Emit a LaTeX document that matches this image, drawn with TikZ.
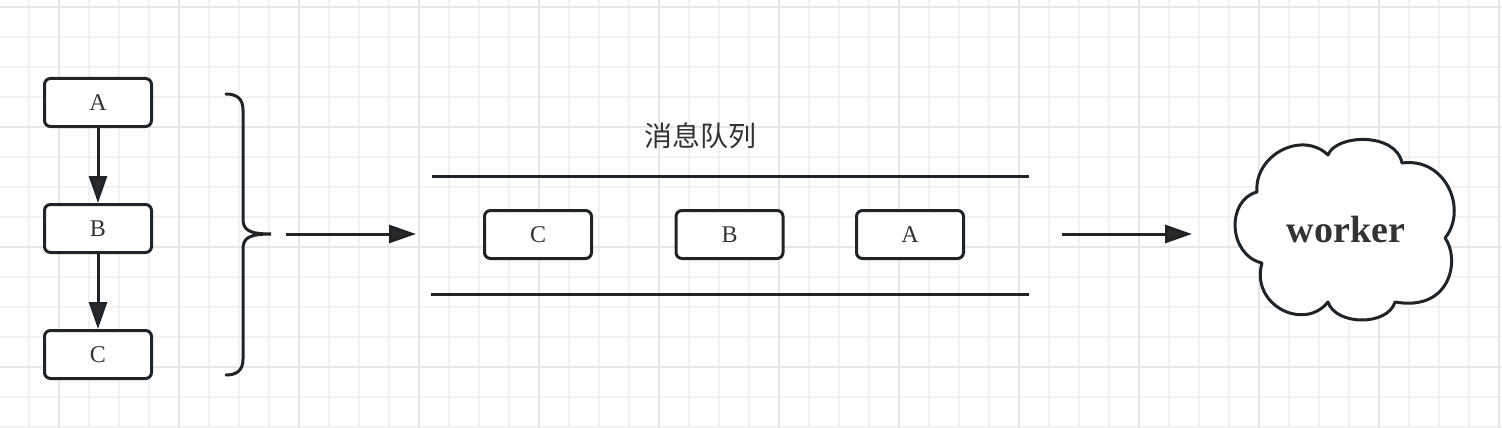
\documentclass[tikz,border=0pt]{standalone}
\usepackage{fontspec}
\setmainfont{Liberation Serif}
\newfontfamily\cjk{Noto Sans CJK SC}
\usetikzlibrary{arrows.meta}
\definecolor{gridminor}{HTML}{F1F1F1}
\definecolor{gridmajor}{HTML}{E6E6E6}
\definecolor{ink}{HTML}{1E2428}
\definecolor{tipfill}{HTML}{2A2A2A}
\definecolor{txt}{HTML}{333333}
\tikzset{
  msgbox/.style={draw=ink, line width=3pt, rounded corners=6pt, fill=white,
    minimum width=107pt, minimum height=48pt, inner sep=0pt,
    font=\fontsize{24}{28}\selectfont, text=txt},
  flow/.style={draw=ink, line width=3pt,
    -{Triangle[length=27pt,width=18pt,fill=tipfill]}},
  bar/.style={draw=ink, line width=3pt},
}
\begin{document}
\begin{tikzpicture}[x=1pt, y=-1pt]
\useasboundingbox (0,0) rectangle (1502,428);
\fill[white] (0,0) rectangle (1502,428);
% grid
\foreach \gx in {29,59,...,1499} {\draw[gridminor, line width=1.6pt] (\gx,0) -- (\gx,428);}
\foreach \gy in {7,37,...,427} {\draw[gridminor, line width=1.6pt] (0,\gy) -- (1502,\gy);}
\foreach \gx in {59,179,...,1499} {\draw[gridmajor, line width=1.8pt] (\gx,0) -- (\gx,428);}
\foreach \gy in {7,127,...,427} {\draw[gridmajor, line width=1.8pt] (0,\gy) -- (1502,\gy);}

% left chain
\node[msgbox] (a1) at (98,102.5) {A};
\node[msgbox] (b1) at (98,228.5) {B};
\node[msgbox] (c1) at (98,354.5) {C};
\draw[flow] (a1.south) -- (b1.north);
\draw[flow] (b1.south) -- (c1.north);

% brace
\draw[bar, line cap=round] (226,94) .. controls (237,94) and (243,99) .. (243,110)
  -- (243,219) .. controls (243,230) and (249,234) .. (271,234)
  .. controls (249,234) and (243,238) .. (243,249)
  -- (243,359) .. controls (243,370) and (237,375) .. (226,375);

% arrow into queue
\coordinate (in1) at (286,234);
\coordinate (in2) at (416,234);
\draw[flow] (in1) -- (in2);

% queue
\node[text=txt, font=\cjk\fontsize{28}{32}\selectfont] (ql) at (700,136) {消息队列};
\coordinate (t1) at (432,176); \coordinate (t2) at (1029,176);
\coordinate (u1) at (431,294); \coordinate (u2) at (1029,294);
\draw[bar] (t1) -- (t2);
\draw[bar] (u1) -- (u2);
\node[msgbox] (qc) at (538,234.5) {C};
\node[msgbox] (qb) at (729.5,234.5) {B};
\node[msgbox] (qa) at (910,234.5) {A};

% arrow to worker
\coordinate (o1) at (1062,234);
\coordinate (o2) at (1192,234);
\draw[flow] (o1) -- (o2);

% cloud
\draw[bar, fill=white, line join=round]
  (1328,155) .. controls (1336,134) and (1396,132) .. (1402,163)
  .. controls (1446,157) and (1468,210) .. (1445,238)
  .. controls (1460,258) and (1452,312) .. (1395,302)
  .. controls (1388,326) and (1336,326) .. (1328,302)
  .. controls (1304,332) and (1250,305) .. (1262,263)
  .. controls (1228,255) and (1226,200) .. (1257,192)
  .. controls (1254,155) and (1302,130) .. (1328,155) -- cycle;
\node[text=txt, font=\bfseries\fontsize{38}{44}\selectfont] (wk) at (1346,230) {worker};
\end{tikzpicture}
\end{document}
